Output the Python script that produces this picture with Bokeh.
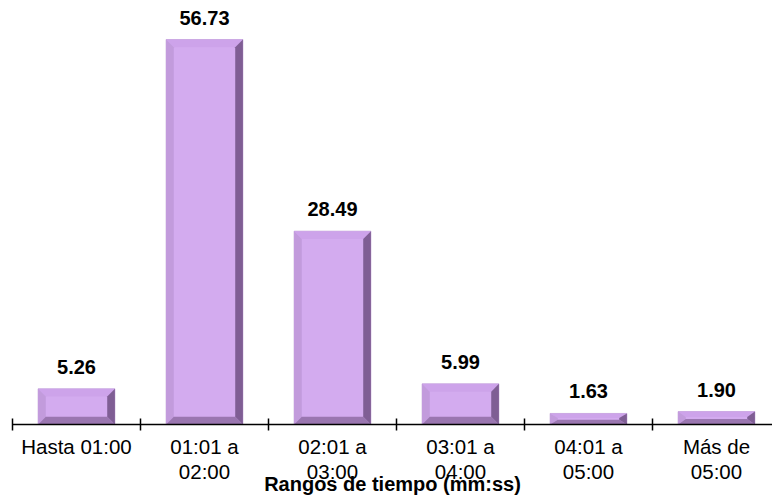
import numpy as np
from bokeh.plotting import figure
from bokeh.models import Range1d, FixedTicker
from bokeh.core.properties import value
from bokeh.embed import file_html
from bokeh.resources import INLINE

categories = ["Hasta 01:00", "01:01 a\n02:00", "02:01 a\n03:00", "03:01 a\n04:00", "04:01 a\n05:00", "Más de\n05:00"]
values = [5.26, 56.73, 28.49, 5.99, 1.63, 1.90]
axis_title = "Rangos de tiempo (mm:ss)"

FONT = "Liberation Sans"
n = len(values)
centers = np.arange(n) + 0.5
vals = np.array(values)
w = 0.6

p = figure(width=772, height=501, output_backend="svg", toolbar_location=None,
           x_range=Range1d(0, 5.9375), y_range=Range1d(0, 62.48),
           min_border_left=12, min_border_right=0, min_border_top=0, min_border_bottom=77,
           y_axis_location=None)
p.outline_line_color = None
p.grid.visible = False
p.background_fill_color = "white"

# bar face
p.vbar(x=centers, top=vals, width=w, fill_color="#d3abef", line_color="#b592cc", line_width=0.6)

# bevels computed from data
x0 = centers - w / 2
x1 = centers + w / 2
dx = 0.06
dy = np.minimum(1.15, vals * 0.42)

top_xs = [[a, b, b - dx, a + dx] for a, b in zip(x0, x1)]
top_ys = [[t, t, t - d, t - d] for t, d in zip(vals, dy)]
bot_xs = top_xs
bot_ys = [[0, 0, d, d] for d in dy]
left_xs = [[a, a, a + dx, a + dx] for a in x0]
left_ys = [[0, t, t - d, d] for t, d in zip(vals, dy)]
right_xs = [[b, b, b - dx, b - dx] for b in x1]
right_ys = left_ys

p.patches(top_xs, top_ys, fill_color="#cda3ea", line_color=None)
p.patches(left_xs, left_ys, fill_color="#c29bdc", line_color=None)
p.patches(bot_xs, bot_ys, fill_color="#9a76b0", line_color=None)
p.patches(right_xs, right_ys, fill_color="#7f5e94", line_color=None)

# value labels
p.text(x=centers, y=vals, text=[f"{v:.2f}" for v in values], text_align="center",
       text_baseline="middle", y_offset=-22, text_font=value(FONT),
       text_font_style="bold", text_font_size="20px", text_color="black")

ax = p.xaxis[0]
ax.ticker = FixedTicker(ticks=list(centers), minor_ticks=list(np.arange(n + 1)))
ax.major_label_overrides = {float(c): lab for c, lab in zip(centers, categories)}
ax.major_tick_in = 0
ax.major_tick_out = 0
ax.minor_tick_in = 6
ax.minor_tick_out = 6
ax.minor_tick_line_color = "black"
ax.minor_tick_line_width = 1.5
ax.axis_line_color = "black"
ax.axis_line_width = 1.5
ax.major_label_standoff = 4
ax.major_label_text_font = FONT
ax.major_label_text_font_size = "20.5px"
ax.major_label_text_line_height = 1.1
ax.major_label_text_color = "black"
ax.major_label_orientation = "horizontal"
ax.axis_label = axis_title
ax.axis_label_standoff = -13
ax.axis_label_text_font = FONT
ax.axis_label_text_font_style = "bold"
ax.axis_label_text_font_size = "20px"
ax.axis_label_text_color = "black"

open("out.html", "w").write(file_html(p, INLINE))
